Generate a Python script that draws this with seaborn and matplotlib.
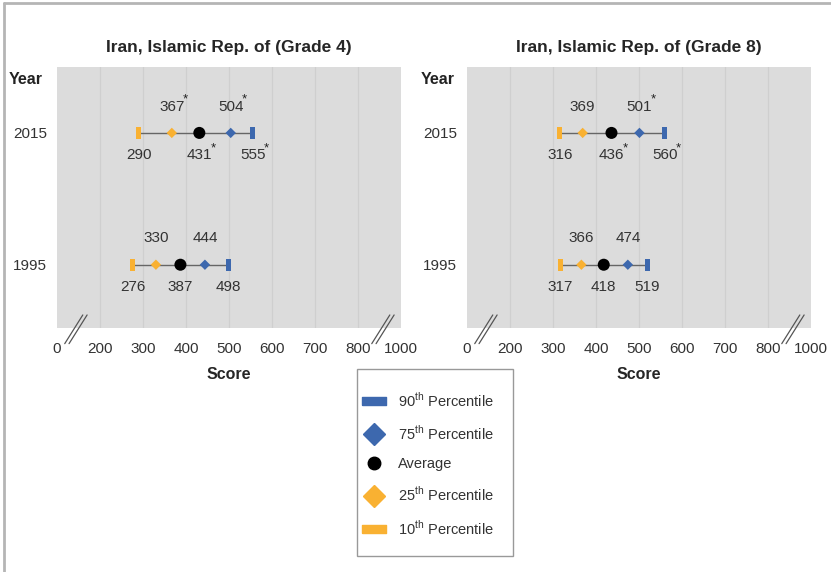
"""TIMSS-style percentile chart: Iran, Grade 4 and Grade 8, 1995 vs 2015."""

import matplotlib

matplotlib.use("Agg")

import matplotlib.pyplot as plt
import pandas as pd
import seaborn as sns
from matplotlib.lines import Line2D
from matplotlib.patches import Rectangle

# ---- data -------------------------------------------------------------
years = ["2015", "1995"]
year_pos = [2, 1]

g4_p10 = [290, 276]
g4_p25 = [367, 330]
g4_avg = [431, 387]
g4_p75 = [504, 444]
g4_p90 = [555, 498]
# significance stars (per year, per statistic: p10, p25, avg, p75, p90)
g4_star = [[False, True, True, True, True], [False] * 5]

g8_p10 = [316, 317]
g8_p25 = [369, 366]
g8_avg = [436, 418]
g8_p75 = [501, 474]
g8_p90 = [560, 519]
g8_star = [[False, False, True, True, True], [False] * 5]

panel_titles = ["Iran, Islamic Rep. of (Grade 4)", "Iran, Islamic Rep. of (Grade 8)"]
tick_values = [100, 200, 300, 400, 500, 600, 700, 800, 900]
tick_labels = ["0", "200", "300", "400", "500", "600", "700", "800", "1000"]
legend_labels = [
    r"90$^{\mathrm{th}}$ Percentile",
    r"75$^{\mathrm{th}}$ Percentile",
    "Average",
    r"25$^{\mathrm{th}}$ Percentile",
    r"10$^{\mathrm{th}}$ Percentile",
]

YELLOW = "#F9B132"
BLUE = "#3D68AE"
FONT = ["Liberation Sans Narrow", "Liberation Sans", "DejaVu Sans"]

sns.set_theme(style="white")
plt.rcParams["font.family"] = FONT
plt.rcParams["mathtext.fontset"] = "custom"
plt.rcParams["mathtext.rm"] = "Liberation Sans"

VBAR = [(-0.4, -1), (0.4, -1), (0.4, 1), (-0.4, 1), (-0.4, -1)]
HBAR = [(-1, -0.3), (1, -0.3), (1, 0.3), (-1, 0.3), (-1, -0.3)]

# name, marker, color, size, label above?
stats = [
    ("p10", VBAR, YELLOW, 80, False),
    ("p25", "D", YELLOW, 28, True),
    ("avg", "o", "black", 75, False),
    ("p75", "D", BLUE, 28, True),
    ("p90", VBAR, BLUE, 80, False),
]


def draw_panel(ax, title, cols, stars):
    df = pd.DataFrame({"year": years, "y": year_pos})
    for name, vals in zip([s[0] for s in stats], cols):
        df[name] = vals

    ax.set_facecolor("#DCDCDC")
    for v in tick_values[1:-1]:
        ax.axvline(v, color="#CFCFCF", lw=0.9, zorder=0)

    for _, row in df.iterrows():
        sns.lineplot(x=[row["p10"], row["p90"]], y=[row["y"], row["y"]],
                     color="#666666", lw=1.0, ax=ax, zorder=1)

    for name, mk, col, size, _ in stats:
        sns.scatterplot(data=df, x=name, y="y", marker=mk, color=col, s=size,
                        edgecolor="none", ax=ax, zorder=3)

    for i, row in df.iterrows():
        for j, (name, _, _, _, above) in enumerate(stats):
            off = 19 if above else -16
            ax.annotate(f"{row[name]}", (row[name], row["y"]), xytext=(0, off),
                        textcoords="offset points", ha="center", va="center",
                        fontsize=11, color="#333333")
            if stars[i][j]:
                ax.annotate("*", (row[name], row["y"]), xytext=(10, off + 5),
                            textcoords="offset points", ha="center", va="center",
                            fontsize=9.5, color="#222222")

    ax.set_xlim(100, 900)
    ax.set_ylim(0.52, 2.5)
    ax.set_xticks(tick_values)
    ax.set_xticklabels(tick_labels)
    ax.set_yticks(year_pos)
    ax.set_yticklabels(years)
    ax.tick_params(axis="both", length=0, labelsize=11, colors="#333333")
    ax.tick_params(axis="x", pad=10)
    ax.tick_params(axis="y", pad=7)
    ax.set_xlabel("Score", fontsize=11.5, fontweight="bold", labelpad=8)
    ax.set_ylabel("")
    ax.set_title(title, fontsize=12.5, fontweight="bold", pad=11)
    for sp in ax.spines.values():
        sp.set_visible(False)

    # axis break marks
    for x0, x1 in [(118, 160), (832, 874)]:
        for dx in (0, 10):
            ax.plot([x0 + dx, x1 + dx], [-0.06, 0.05], transform=ax.get_xaxis_transform(),
                    color="#555555", lw=0.9, clip_on=False)


fig = plt.figure(figsize=(8.31, 5.72), dpi=100)
ax1 = fig.add_axes([57 / 831, 1 - 328 / 572, 344 / 831, 261 / 572])
ax2 = fig.add_axes([467 / 831, 1 - 328 / 572, 344 / 831, 261 / 572])

draw_panel(ax1, panel_titles[0], [g4_p10, g4_p25, g4_avg, g4_p75, g4_p90], g4_star)
draw_panel(ax2, panel_titles[1], [g8_p10, g8_p25, g8_avg, g8_p75, g8_p90], g8_star)

for xpx in (26, 438):
    fig.text(xpx / 831, 1 - 80 / 572, "Year", ha="center", va="center",
             fontsize=11.5, fontweight="bold", color="#222222")

handles = [
    Line2D([], [], ls="none", marker=HBAR, color=BLUE, markersize=17),
    Line2D([], [], ls="none", marker="D", color=BLUE, markersize=11),
    Line2D([], [], ls="none", marker="o", color="black", markersize=9),
    Line2D([], [], ls="none", marker="D", color=YELLOW, markersize=11),
    Line2D([], [], ls="none", marker=HBAR, color=YELLOW, markersize=17),
]
leg = fig.legend(handles, legend_labels, loc="center left",
                 bbox_to_anchor=(362 / 831, 1 - 464 / 572), frameon=False,
                 fontsize=10.5, labelspacing=1.0, borderpad=0, borderaxespad=0,
                 handlelength=1.7, handletextpad=0.8)
for t in leg.get_texts():
    t.set_color("#333333")

# legend frame
fig.add_artist(Rectangle((357 / 831, 1 - 556 / 572), 156 / 831, 187 / 572,
                         transform=fig.transFigure, fill=False, edgecolor="#999999", lw=1.0))

# outer frame (left and top edges)
fig.add_artist(Line2D([4 / 831, 4 / 831], [0, 1 - 3 / 572], color="#B5B5B5", lw=2))
fig.add_artist(Line2D([4 / 831, 1], [1 - 3 / 572, 1 - 3 / 572], color="#B5B5B5", lw=2))

fig.savefig("out.png", dpi=100)
